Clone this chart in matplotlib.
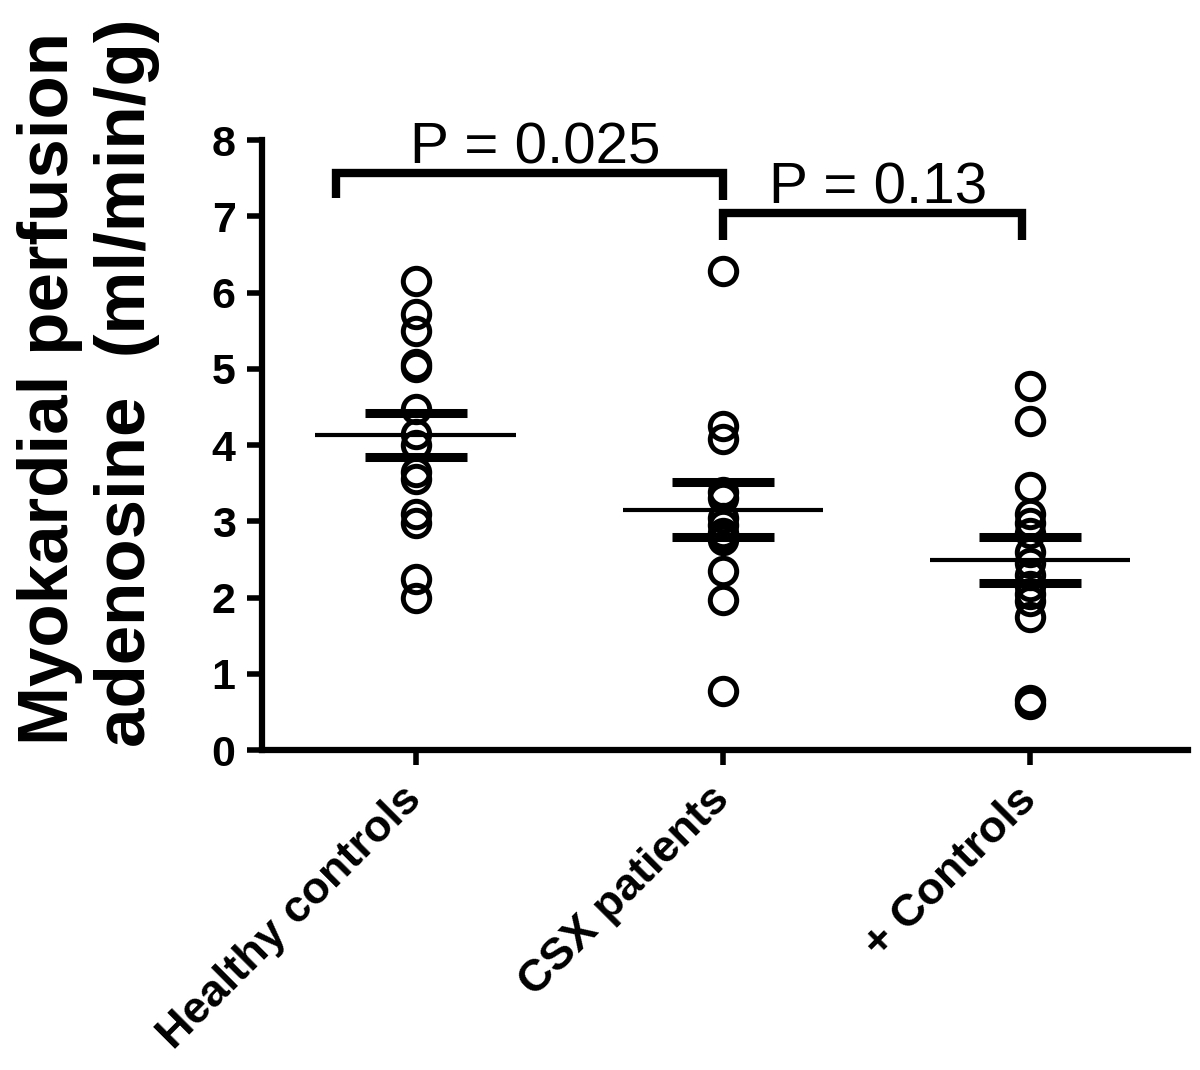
import matplotlib
matplotlib.use("Agg")
import matplotlib.pyplot as plt
import numpy as np

plt.rcParams['font.family'] = ['Liberation Sans', 'DejaVu Sans']

categories = ["Healthy controls", "CSX patients", "+ Controls"]
healthy = [6.15, 5.72, 5.5, 5.07, 5.02, 4.48, 4.15, 4.0, 3.65, 3.55, 3.1, 2.98, 2.25, 2.0]
csx = [6.28, 4.25, 4.08, 3.38, 3.3, 3.05, 2.95, 2.85, 2.8, 2.75, 2.35, 1.97, 0.78]
plus_controls = [4.78, 4.32, 3.45, 3.1, 2.98, 2.85, 2.6, 2.45, 2.3, 2.15, 2.05, 1.95, 1.75, 0.66, 0.6]
means = [4.13, 3.15, 2.49]
sems = [0.29, 0.36, 0.30]
brackets = [(0, 1, 7.57, 7.24, 7.22, "P = 0.025"), (1, 2, 7.04, 6.69, 6.69, "P = 0.13")]
yticks = [0, 1, 2, 3, 4, 5, 6, 7, 8]

fig = plt.figure(figsize=(12, 10.7), dpi=100)
ax = fig.add_axes([0.2183, 0.299, 0.7717, 0.570])

groups = [healthy, csx, plus_controls]
for i, vals in enumerate(groups):
    ax.plot([i] * len(vals), vals, linestyle='none', marker='o', markersize=19,
            markerfacecolor='none', markeredgecolor='black', markeredgewidth=3.6,
            clip_on=False, zorder=3)
    ax.hlines(means[i], i - 0.326, i + 0.326, color='black', linewidth=3, zorder=4)
    ax.hlines([means[i] + sems[i], means[i] - sems[i]], i - 0.166, i + 0.166,
              color='black', linewidth=6.5, zorder=4)

for (a, b, top, la, lb, label) in brackets:
    xa = a - 0.26 if a == 0 else a
    xb = b - 0.026 if b == 2 else b
    ax.plot([xa, xa, xb, xb], [la, top, top, lb], color='black', linewidth=6,
            solid_joinstyle='miter', solid_capstyle='butt', clip_on=False)
    ax.text((xa + xb) / 2 + 0.02, top + 0.13, label, ha='center', va='baseline',
            fontsize=42, color='black')

ax.set_xlim(-0.50, 2.515)
ax.set_ylim(0, 8)
ax.set_yticks(yticks)
ax.set_yticklabels([str(t) for t in yticks], fontsize=31, fontweight='bold')
ax.set_xticks(range(len(categories)))
ax.set_xticklabels(categories, fontsize=32.5, fontweight='bold', rotation=45,
                   ha='right', va='center', rotation_mode='anchor')
ax.tick_params(axis='both', length=11, width=4, direction='out', pad=8)
ax.tick_params(axis='x', pad=20)
for s in ['top', 'right']:
    ax.spines[s].set_visible(False)
for s in ['left', 'bottom']:
    ax.spines[s].set_linewidth(4.5)

fig.text(0.042, 0.637, "Myokardial perfusion", rotation=90, ha='center', va='center',
         fontsize=51, fontweight='bold')
fig.text(0.106, 0.642, "adenosine  (ml/min/g)", rotation=90, ha='center', va='center',
         fontsize=51, fontweight='bold')

fig.savefig("out.png", dpi=100, facecolor='white')
